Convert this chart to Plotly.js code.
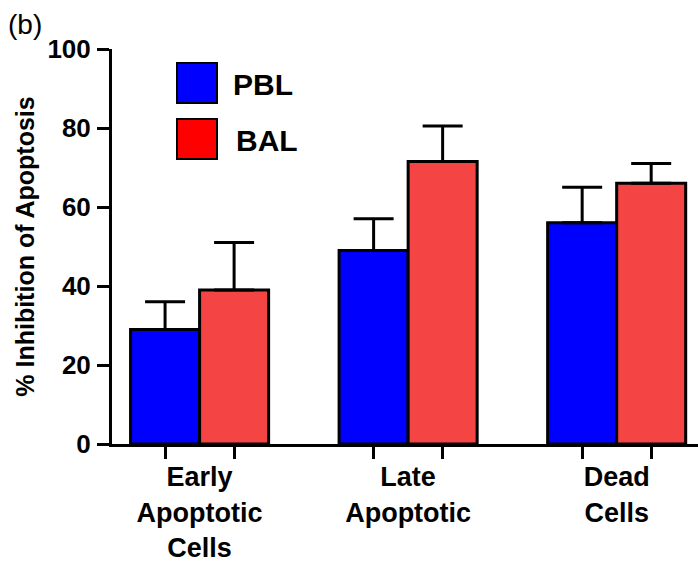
<!DOCTYPE html>
<html>
<head>
<meta charset="utf-8">
<script src="https://cdn.plot.ly/plotly-3.0.1.min.js"></script>
<style>html,body{margin:0;padding:0;background:#fff;}#chart{width:698px;height:566px;}</style>
</head>
<body>
<div id="chart"></div>
<script>
// ---- data ----
const categories = ["Early<br>Apoptotic<br>Cells", "Late<br>Apoptotic", "Dead<br>Cells"];
const seriesNames = ["PBL", "BAL"];
const pblValues = [29, 49, 56];
const pblErrors = [7, 8, 9];
const balValues = [39, 71.5, 66];
const balErrors = [12, 9, 5];
const yTicks = [0, 20, 40, 60, 80, 100];

// ---- styling ----
const FONT = '"Liberation Sans", Arial, sans-serif';
const barColors = ["#0000FF", "#F54444"];
const legendColors = ["#0000FF", "#FF0000"];
const xIdx = categories.map((c, i) => i);
const bargap = 0.338;
const barWidth = (1 - bargap) / 2;
const barCenters = [];
xIdx.forEach(i => { barCenters.push(i - barWidth / 2, i + barWidth / 2); });

function errBar(arr) {
  return {type: 'data', symmetric: false, array: arr, arrayminus: arr.map(() => 0),
          color: '#000', thickness: 3, width: 20};
}

const traces = [
  {type: 'bar', name: seriesNames[0], x: xIdx, y: pblValues,
   marker: {color: barColors[0], line: {color: '#000', width: 3}},
   error_y: errBar(pblErrors), showlegend: false},
  {type: 'bar', name: seriesNames[1], x: xIdx, y: balValues,
   marker: {color: barColors[1], line: {color: '#000', width: 3}},
   error_y: errBar(balErrors), showlegend: false}
];

const L = 112, R = 698, T = 49, B = 444;
const px = v => (v - L) / (R - L);
const py = v => (B - v) / (B - T);
const xr = [-0.42, 2.39];

const layout = {
  width: 698, height: 566,
  margin: {l: L, r: 698 - R, t: T, b: 566 - B, pad: 0},
  paper_bgcolor: '#fff', plot_bgcolor: '#fff',
  barmode: 'group', bargap: bargap, bargroupgap: 0,
  font: {family: FONT, color: '#000'},
  xaxis: {
    type: 'linear', range: xr, tickmode: 'array', tickvals: xIdx, ticktext: categories,
    ticks: 'outside', ticklen: 7, tickcolor: 'rgba(0,0,0,0)', tickwidth: 3,
    minor: {tickmode: 'array', tickvals: barCenters, ticks: 'outside', ticklen: 12,
            tickwidth: 3, tickcolor: '#000', showgrid: false},
    showline: true, linecolor: '#000', linewidth: 3, showgrid: false, zeroline: false,
    tickfont: {family: FONT, size: 27, color: '#000', weight: 'bold'}, fixedrange: true
  },
  yaxis: {
    range: [0, 100], tickmode: 'array', tickvals: yTicks,
    ticks: 'outside', ticklen: 12, tickwidth: 3, tickcolor: '#000',
    showline: true, linecolor: '#000', linewidth: 3, showgrid: false, zeroline: false,
    tickfont: {family: FONT, size: 26, color: '#000', weight: 'bold'},
    ticklabelstandoff: 1,
    title: {text: '% Inhibition of Apoptosis', font: {family: FONT, size: 25, color: '#000', weight: 'bold'}, standoff: 6},
    fixedrange: true
  },
  shapes: [
    {type: 'rect', xref: 'paper', yref: 'paper', x0: px(177), x1: px(217), y0: py(103), y1: py(63),
     fillcolor: legendColors[0], line: {color: '#000', width: 2}},
    {type: 'rect', xref: 'paper', yref: 'paper', x0: px(177), x1: px(217), y0: py(159), y1: py(119),
     fillcolor: legendColors[1], line: {color: '#000', width: 2}}
  ],
  annotations: [
    {xref: 'paper', yref: 'paper', x: px(231), y: py(84), xanchor: 'left', yanchor: 'middle',
     text: seriesNames[0], showarrow: false, font: {family: FONT, size: 30, color: '#000', weight: 'bold'}},
    {xref: 'paper', yref: 'paper', x: px(234), y: py(140), xanchor: 'left', yanchor: 'middle',
     text: seriesNames[1], showarrow: false, font: {family: FONT, size: 30, color: '#000', weight: 'bold'}},
    {xref: 'paper', yref: 'paper', x: px(6), y: py(25), xanchor: 'left', yanchor: 'middle',
     text: '(b)', showarrow: false, font: {family: FONT, size: 28, color: '#000'}}
  ]
};

Plotly.newPlot('chart', traces, layout, {displayModeBar: false, staticPlot: true});
</script>
</body>
</html>
